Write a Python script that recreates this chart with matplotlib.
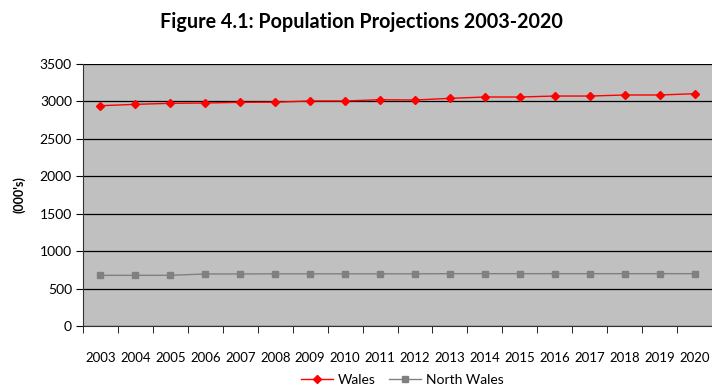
import matplotlib
matplotlib.use("Agg")
import matplotlib.pyplot as plt
import numpy as np

years = [str(y) for y in range(2003, 2021)]
wales = [2943, 2961, 2975, 2979, 2988, 2990, 3006, 3006, 3023,
         3019, 3041, 3059, 3059, 3072, 3072, 3086, 3086, 3103]
north_wales = [677, 677, 677, 695, 695, 697, 697, 697, 697,
               697, 699, 699, 699, 699, 699, 699, 699, 699]
y_ticks = [0, 500, 1000, 1500, 2000, 2500, 3000, 3500]

plt.rcParams['font.family'] = ['Lato', 'DejaVu Sans']

fig = plt.figure(figsize=(7.12, 3.88), dpi=100)
ax = fig.add_axes([83 / 712, 1 - 326 / 388, 629 / 712, 262 / 388])
ax.set_facecolor('#c0c0c0')

x = np.arange(len(years))
ax.plot(x, wales, color='#ff0000', marker='D', markersize=4.5, linewidth=1,
        label='Wales', zorder=3)
ax.plot(x, north_wales, color='#808080', marker='s', markersize=4.5,
        linewidth=1, label='North Wales', zorder=3)

ax.set_xlim(-0.5, len(years) - 0.5)
ax.set_ylim(0, 3500)
ax.set_yticks(y_ticks)
ax.tick_params(axis='y', labelsize=10, length=5, direction='out', pad=3)
ax.yaxis.grid(True, color='black', linewidth=0.9)
ax.set_axisbelow(True)

ax.set_xticks(x)
ax.set_xticklabels(years, fontsize=9.5)
ax.set_xticks(np.arange(-0.5, len(years)), minor=True)
ax.tick_params(axis='x', which='major', length=0, pad=19)
ax.tick_params(axis='x', which='minor', length=5, direction='out')

for side in ('top', 'right'):
    ax.spines[side].set_visible(False)
ax.spines['left'].set_color('#333333')
ax.spines['bottom'].set_color('#333333')

ax.set_ylabel("(000's)", fontsize=9, fontweight='bold', labelpad=10)

fig.suptitle('Figure 4.1: Population Projections 2003-2020', x=0.508, y=0.968,
             fontsize=14.2, fontweight='bold')

fig.legend(loc='center', bbox_to_anchor=(0.565, 0.02), ncol=2, frameon=False,
           fontsize=10, handlelength=2.3, columnspacing=0.9, handletextpad=0.4)

fig.savefig('out.png', dpi=100)
